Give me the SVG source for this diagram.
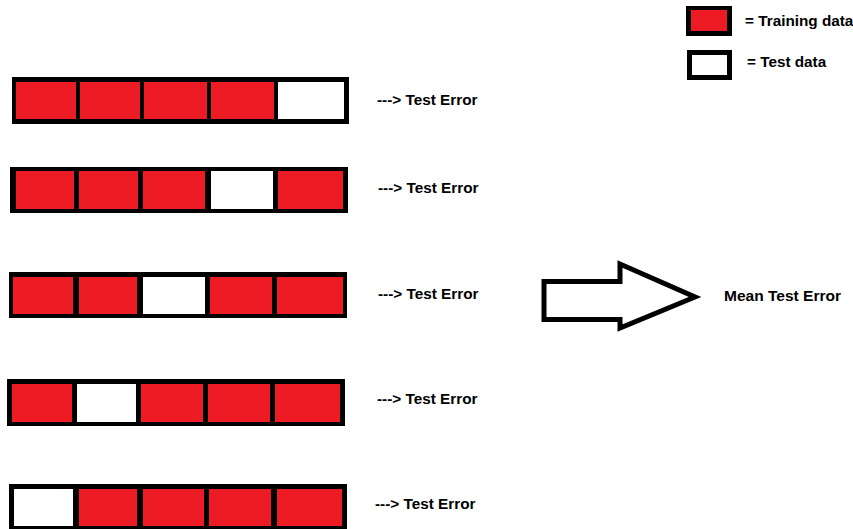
<svg xmlns="http://www.w3.org/2000/svg" width="853" height="529" viewBox="0 0 853 529">
<style>
.frame{fill:#000}
.tr{fill:#ED1C24}
.te{fill:#fff}
.lbl{font-family:"Liberation Sans",Arial,sans-serif;font-weight:bold;font-size:15.3px;fill:#000}
.arrow{fill:#fff;stroke:#000;stroke-width:5;stroke-linejoin:miter}
</style>
<rect width="853" height="529" fill="#fff"/>
<g id="legend">
<rect class="frame" x="686" y="6" width="46" height="30"/>
<rect class="tr" x="691" y="10" width="36" height="21"/>
<text class="lbl" x="745" y="26">= Training data</text>
<rect class="frame" x="687" y="50" width="45" height="30"/>
<rect class="te" x="692" y="55" width="35" height="20"/>
<text class="lbl" x="747" y="67">= Test data</text>
</g>
<g id="fold1">
<rect class="frame" x="12" y="77" width="337" height="47"/>
<rect class="tr" x="16" y="82" width="60" height="37"/>
<rect class="tr" x="80" y="82" width="60" height="37"/>
<rect class="tr" x="144" y="82" width="63" height="37"/>
<rect class="tr" x="211" y="82" width="63" height="37"/>
<rect class="te" x="278" y="82" width="66" height="37"/>
<text class="lbl" x="377" y="105">---&gt; Test Error</text>
</g>
<g id="fold2">
<rect class="frame" x="10" y="167" width="338" height="46"/>
<rect class="tr" x="16" y="171" width="58" height="38"/>
<rect class="tr" x="79" y="171" width="59" height="38"/>
<rect class="tr" x="143" y="171" width="62" height="38"/>
<rect class="te" x="211" y="171" width="62" height="38"/>
<rect class="tr" x="278" y="171" width="65" height="38"/>
<text class="lbl" x="378" y="193">---&gt; Test Error</text>
</g>
<g id="fold3">
<rect class="frame" x="9" y="272" width="338" height="46"/>
<rect class="tr" x="13" y="277" width="60" height="37"/>
<rect class="tr" x="79" y="277" width="58" height="37"/>
<rect class="te" x="143" y="277" width="62" height="37"/>
<rect class="tr" x="210" y="277" width="62" height="37"/>
<rect class="tr" x="277" y="277" width="66" height="37"/>
<text class="lbl" x="378" y="299">---&gt; Test Error</text>
</g>
<g id="fold4">
<rect class="frame" x="7" y="379" width="338" height="47"/>
<rect class="tr" x="12" y="384" width="60" height="38"/>
<rect class="te" x="77" y="384" width="59" height="38"/>
<rect class="tr" x="141" y="384" width="62" height="38"/>
<rect class="tr" x="208" y="384" width="62" height="38"/>
<rect class="tr" x="275" y="384" width="65" height="38"/>
<text class="lbl" x="377" y="404">---&gt; Test Error</text>
</g>
<g id="fold5">
<rect class="frame" x="9" y="484" width="338" height="46"/>
<rect class="te" x="14" y="489" width="59" height="37"/>
<rect class="tr" x="79" y="489" width="58" height="37"/>
<rect class="tr" x="143" y="489" width="61" height="37"/>
<rect class="tr" x="209" y="489" width="62" height="37"/>
<rect class="tr" x="277" y="489" width="65" height="37"/>
<text class="lbl" x="375" y="509">---&gt; Test Error</text>
</g>
<g id="connectors">
<polygon class="arrow" points="544,281.5 620,281.5 620,264 695,297 620,328 620,319.5 544,319.5"/>
</g>
<g id="result">
<text class="lbl" x="724" y="301" textLength="117" lengthAdjust="spacingAndGlyphs">Mean Test Error</text>
</g>
</svg>
